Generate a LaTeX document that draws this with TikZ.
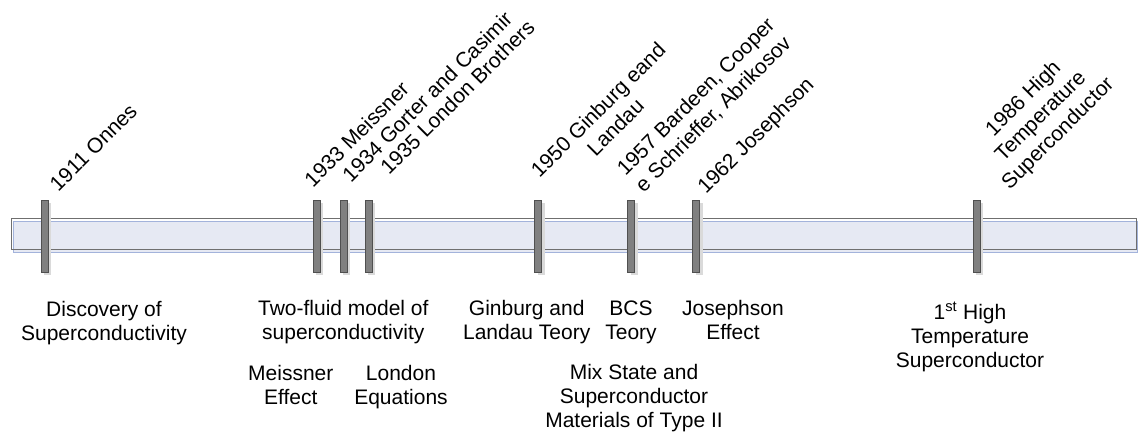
\documentclass[tikz,border=0pt]{standalone}
\usepackage{fontspec}
\setmainfont{Liberation Sans}
\usetikzlibrary{shadows}
\definecolor{barfill}{HTML}{E6E9F3}
\definecolor{barblue}{HTML}{A3B3DB}
\definecolor{barline}{HTML}{6F6F6F}
\definecolor{tickfill}{HTML}{808080}
\definecolor{tickline}{HTML}{505050}
\definecolor{tickshade}{HTML}{DADADA}
% centred stacks of lines: baseline on the last line (upper labels) or the first line (lower labels)
\newcommand\uplabel[1]{\begin{tabular}[b]{@{}c@{}}#1\end{tabular}}
\newcommand\downlabel[1]{\begin{tabular}[t]{@{}c@{}}#1\end{tabular}}
\begin{document}
\begin{tikzpicture}[x=1pt,y=-1pt,
  tickmark/.style={draw=tickline, line width=0.8pt, fill=tickfill,
    minimum width=7pt, minimum height=72pt, inner sep=0pt,
    general shadow={fill=tickshade, shadow xshift=3pt, shadow yshift=-3pt}},
  year/.style={rotate=45, anchor=base, inner sep=0pt, font=\fontsize{21}{24.5}\selectfont},
  event/.style={anchor=base, inner sep=0pt, font=\fontsize{21}{24}\selectfont}]
\useasboundingbox (0,0) rectangle (1138,432);

% time axis
\filldraw[fill=barfill, draw=barblue, line width=1pt] (13,221) rectangle (1137,252);
\draw[barline, line width=1pt] (11,218.5) rectangle (1136.5,249);

% year marks
\node[tickmark] (t1911) at (44.5,236) {};
\node[tickmark] (t1933) at (316.5,236) {};
\node[tickmark] (t1934) at (343.5,236) {};
\node[tickmark] (t1935) at (368.5,236) {};
\node[tickmark] (t1950) at (538.3,236) {};
\node[tickmark] (t1957) at (631,236) {};
\node[tickmark] (t1962) at (696.3,236) {};
\node[tickmark] (t1986) at (976.5,236) {};

% names and years, slanted
\node[year] (y1911) at (98.4,152.6) {\uplabel{1911 Onnes}};
\node[year] (y1933) at (361.7,139.3) {\uplabel{1933 Meissner}};
\node[year] (y1934) at (432.3,101.7) {\uplabel{1934 Gorter and Casimir}};
\node[year] (y1935) at (462.5,102.5) {\uplabel{1935 London Brothers}};
\node[year] (y1950) at (620.6,132.4) {\uplabel{1950 Ginburg eand\\Landau}};
\node[year] (y1957) at (718.1,118.9) {\uplabel{1957 Bardeen, Cooper\\e Schrieffer, Abrikosov}};
\node[year] (y1962) at (760.5,140.5) {\uplabel{1962 Josephson}};
\node[year] (y1986) at (1062.4,137.9) {\uplabel{1986 High\\Temperature\\Superconductor}};

% discoveries, below the axis
\node[event] (e1911) at (104,316) {\downlabel{Discovery of\\Superconductivity}};
\node[event] (e1934) at (343.3,315) {\downlabel{Two-fluid model of\\superconductivity}};
\node[event] (e1950) at (526.7,315) {\downlabel{Ginburg and\\Landau Teory}};
\node[event] (e1957) at (631,315) {\downlabel{BCS\\Teory}};
\node[event] (e1962) at (733,315) {\downlabel{Josephson\\Effect}};
\node[event] (e1986) at (970,319) {\downlabel{1\textsuperscript{st} High\\Temperature\\Superconductor}};
\node[event] (e1933) at (290.8,380) {\downlabel{Meissner\\Effect}};
\node[event] (e1935) at (401,380) {\downlabel{London\\Equations}};
\node[event] (e1957b) at (634,379) {\downlabel{Mix State and\\Superconductor\\Materials of Type II}};
\end{tikzpicture}
\end{document}
